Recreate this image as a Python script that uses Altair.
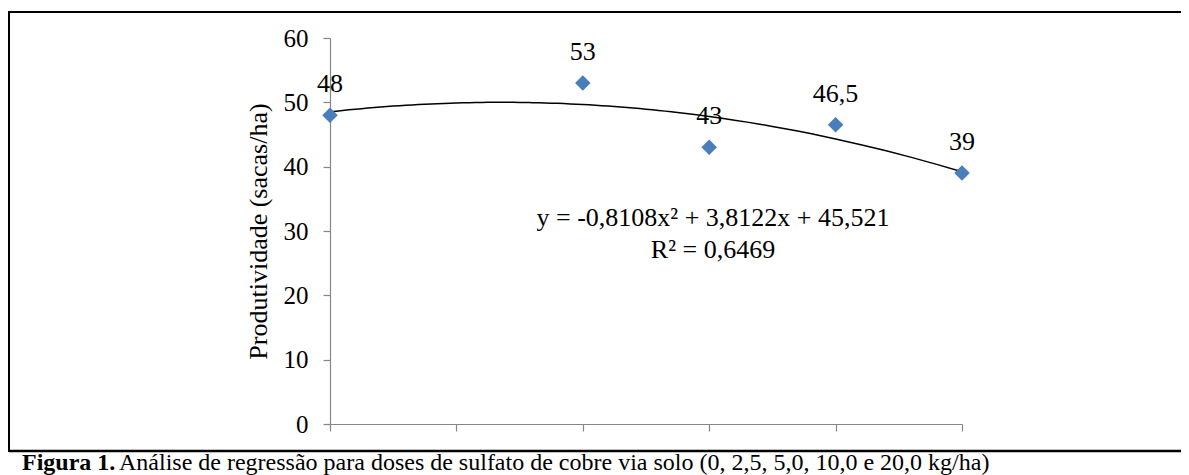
import altair as alt
import pandas as pd

# ---- data ----
x_pos = [1, 3, 4, 5, 6]
productivity = [48, 53, 43, 46.5, 39]
point_labels = ["48", "53", "43", "46,5", "39"]
x_ticks = [1, 2, 3, 4, 5, 6]
y_ticks = [0, 10, 20, 30, 40, 50, 60]
equation_text = "y = -0,8108x\u00b2 + 3,8122x + 45,521"
r2_text = "R\u00b2 = 0,6469"
caption_bold = "Figura 1."
caption_rest = "Análise de regressão para doses de sulfato de cobre via solo (0, 2,5, 5,0, 10,0 e 20,0 kg/ha)"

FONT = "Liberation Serif"
AXIS_GRAY = "#868686"
BLUE = "#4A7EBB"

df = pd.DataFrame({"x": x_pos, "y": productivity, "label": point_labels})
dummy = pd.DataFrame({"a": [0]})

x_enc = alt.X("x:Q", scale=alt.Scale(domain=[1, 6], nice=False, zero=False),
              axis=alt.Axis(values=x_ticks, labels=False, title=None, grid=False,
                            domainColor=AXIS_GRAY, tickColor=AXIS_GRAY, tickSize=7,
                            domainWidth=1.2, tickWidth=1.2))
y_enc = alt.Y("y:Q", scale=alt.Scale(domain=[0, 60], nice=False),
              axis=alt.Axis(values=y_ticks, grid=False, title="Produtividade (sacas/ha)",
                            domainColor=AXIS_GRAY, tickColor=AXIS_GRAY, tickSize=7,
                            domainWidth=1.2, tickWidth=1.2,
                            labelFont=FONT, labelFontSize=25, labelColor="black",
                            labelPadding=15,
                            titleFont=FONT, titleFontSize=26, titleFontWeight="normal",
                            titleColor="black", titlePadding=12))

base = alt.Chart(df)

points = base.mark_point(shape="diamond", filled=True, size=240, color=BLUE, opacity=1).encode(
    x=x_enc, y=y_enc)

labels = base.mark_text(font=FONT, fontSize=26, color="black", dy=-31, baseline="middle").encode(
    x="x:Q", y="y:Q", text="label:N")

trend = base.transform_regression("x", "y", method="poly", order=2, extent=[1, 6]).mark_line(
    color="black", strokeWidth=1.5).encode(x="x:Q", y="y:Q")

eq1 = alt.Chart(dummy).mark_text(font=FONT, fontSize=26, color="black", align="center",
                                 baseline="middle").encode(
    x=alt.value(383), y=alt.value(180), text=alt.value(equation_text))
eq2 = alt.Chart(dummy).mark_text(font=FONT, fontSize=26, color="black", align="center",
                                 baseline="middle").encode(
    x=alt.value(383), y=alt.value(212), text=alt.value(r2_text))

top_line = alt.Chart(dummy).mark_rule(color="black", strokeWidth=2).encode(
    x=alt.value(-321), x2=alt.value(851), y=alt.value(-26))
bottom_line = alt.Chart(dummy).mark_rule(color="black", strokeWidth=2.5).encode(
    x=alt.value(-321), x2=alt.value(851), y=alt.value(413))
left_line = alt.Chart(dummy).mark_rule(color="black", strokeWidth=2).encode(
    x=alt.value(-321), y=alt.value(-27), y2=alt.value(414))

cap1 = alt.Chart(dummy).mark_text(font=FONT, fontSize=24, fontWeight="bold", color="black",
                                  align="left", baseline="alphabetic").encode(
    x=alt.value(-308), y=alt.value(432), text=alt.value(caption_bold))
cap2 = alt.Chart(dummy).mark_text(font=FONT, fontSize=24, color="black",
                                  align="left", baseline="alphabetic").encode(
    x=alt.value(-211), y=alt.value(432), text=alt.value(caption_rest))

chart = alt.layer(trend, points, labels, eq1, eq2, top_line, bottom_line, left_line, cap1, cap2).properties(
    width=632, height=386,
    padding={"left": 322, "top": 30, "right": 219, "bottom": 51},
    autosize=alt.AutoSizeParams(type="none"),
    background="white",
).configure_view(stroke=None)

chart.save("out.html", embed_options={"renderer": "svg", "actions": False})
